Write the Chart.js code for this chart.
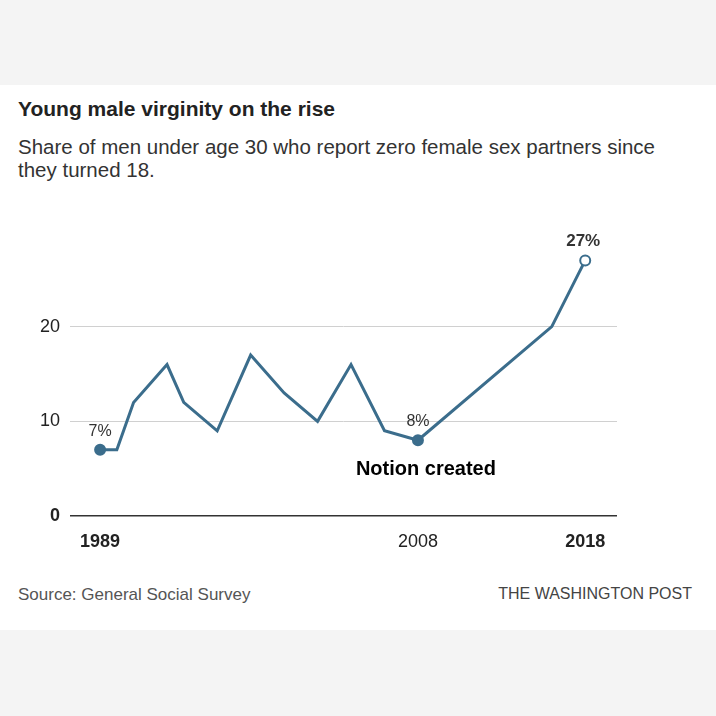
<!DOCTYPE html>
<html>
<head>
<meta charset="utf-8">
<script src="https://cdn.jsdelivr.net/npm/chart.js@4"></script>
<style>
  body { margin: 0; width: 716px; height: 716px; background: #f4f4f4; font-family: "Liberation Sans", Arial, sans-serif; position: relative; overflow: hidden; }
  #paper { position: absolute; left: 0; top: 85px; width: 716px; height: 545px; background: #fff; }
  #wrap { position: absolute; left: 0; top: 0; width: 716px; height: 716px; }
  .txt { position: absolute; white-space: nowrap; }
  #titulo { left: 18px; top: 97px; font-size: 21px; font-weight: bold; color: #222; }
  #sub { left: 18px; top: 135px; font-size: 20.5px; color: #333; line-height: 23px; white-space: normal; width: 640px; }
  #fonte { left: 18px; top: 585px; font-size: 17px; color: #555; }
  #wp { right: 24px; top: 585px; font-size: 16px; color: #444; }
</style>
</head>
<body>
<div id="paper"></div>
<div class="txt" id="titulo">Young male virginity on the rise</div>
<div class="txt" id="sub">Share of men under age 30 who report zero female sex partners since they turned 18.</div>
<div class="txt" id="fonte">Source: General Social Survey</div>
<div class="txt" id="wp">THE WASHINGTON POST</div>
<div id="wrap"><canvas id="grafico" width="716" height="716"></canvas></div>
<script>
var anos = [1989, 1990, 1991, 1993, 1994, 1996, 1998, 2000, 2002, 2004, 2006, 2008, 2016, 2018];
var percentuais = [7, 7, 12, 16, 12, 9, 17, 13, 10, 16, 9, 8, 20, 27];
var ticksX = [1989, 2008, 2018];
var ticksY = [0, 10, 20];
var corLinha = '#3b6d8c';

var pontos = anos.map((a, i) => ({ x: a, y: percentuais[i] }));

const rotulos = {
    id: 'rotulos',
    afterDatasetsDraw(chart) {
        const ctx = chart.ctx;
        const meta = chart.getDatasetMeta(0).data;
        ctx.save();
        ctx.textAlign = 'center';
        ctx.fillStyle = '#333';
        ctx.font = '16px "Liberation Sans", Arial, sans-serif';
        ctx.fillText('7%', meta[0].x, meta[0].y - 14);
        ctx.fillText('8%', meta[11].x, meta[11].y - 14);
        ctx.font = 'bold 17px "Liberation Sans", Arial, sans-serif';
        ctx.fillText('27%', meta[13].x - 2, meta[13].y - 14);
        ctx.fillStyle = '#000';
        ctx.font = 'bold 20px "Liberation Sans", Arial, sans-serif';
        ctx.fillText('Notion created', meta[11].x + 8, meta[11].y + 35);
        ctx.restore();
    }
};

new Chart(document.getElementById('grafico').getContext('2d'), {
    type: 'line',
    data: {
        datasets: [{
            data: pontos,
            borderColor: corLinha,
            borderWidth: 3,
            tension: 0,
            pointRadius: (c) => [0, 11, 13].includes(c.dataIndex) ? 5 : 0,
            pointBackgroundColor: (c) => c.dataIndex == 13 ? '#fff' : corLinha,
            pointBorderColor: corLinha,
            pointBorderWidth: 2
        }]
    },
    options: {
        responsive: false,
        animation: false,
        layout: { padding: { left: 30, right: 99, top: 232, bottom: 160 } },
        plugins: { legend: { display: false }, tooltip: { enabled: false } },
        scales: {
            x: {
                type: 'linear',
                min: 1987.2,
                max: 2019.9,
                afterBuildTicks: (s) => { s.ticks = ticksX.map(v => ({ value: v })); },
                afterFit: (s) => { s.height = 40; },
                grid: { display: false, drawTicks: false },
                border: { display: false },
                ticks: {
                    color: '#222',
                    padding: 15,
                    maxRotation: 0,
                    font: (c) => ({ size: 18, family: '"Liberation Sans", Arial, sans-serif', weight: c.tick && c.tick.value == 2008 ? 'normal' : 'bold' }),
                    callback: (v) => String(v)
                }
            },
            y: {
                min: 0,
                max: 30,
                afterBuildTicks: (s) => { s.ticks = ticksY.map(v => ({ value: v })); },
                afterFit: (s) => { s.width = 40; },
                grid: {
                    drawTicks: false,
                    color: (c) => c.tick && c.tick.value == 0 ? '#333' : '#d0d0d0',
                    lineWidth: (c) => c.tick && c.tick.value == 0 ? 1.5 : 1
                },
                border: { display: false },
                ticks: {
                    color: '#222',
                    padding: 10,
                    font: (c) => ({ size: 18, family: '"Liberation Sans", Arial, sans-serif', weight: c.tick && c.tick.value == 0 ? 'bold' : 'normal' })
                }
            }
        }
    },
    plugins: [rotulos]
});
</script>
</body>
</html>
